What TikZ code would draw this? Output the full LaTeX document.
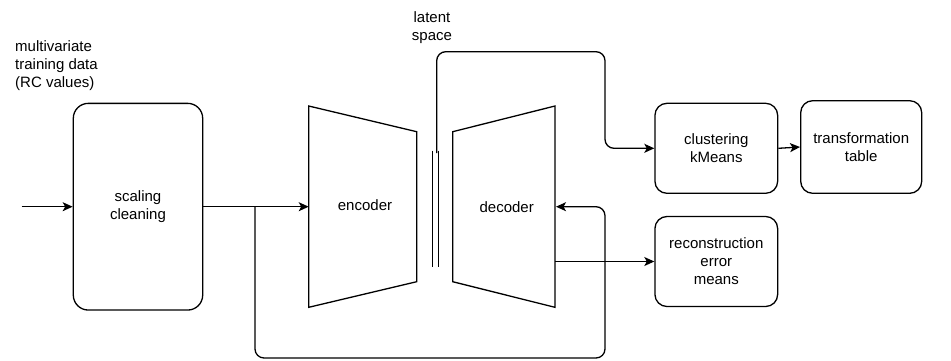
\documentclass[tikz,border=0pt]{standalone}
\usepackage{fontspec}
\setmainfont{Liberation Sans}
\usetikzlibrary{arrows.meta}
\begin{document}
\begin{tikzpicture}[x=1pt,y=-1pt,
  every node/.style={font=\fontsize{15pt}{18pt}\selectfont, align=center},
  box/.style={draw, line width=1.3pt, rounded corners=12pt, inner sep=0pt},
  ln/.style={line width=1.3pt},
  arr/.style={line width=1.3pt, -{Stealth[length=10pt,width=9pt,inset=2.5pt]}},
  conn/.style={arr, rounded corners=9pt}]
\useasboundingbox (0,0) rectangle (951,360);
\fill[white] (0,0) rectangle (951,360);

% boxes
\node[box, rounded corners=15pt, minimum width=129.4pt, minimum height=206.7pt] (scale) at (138,206.7) {scaling\\cleaning};
\node[box, minimum width=122.7pt, minimum height=90pt] (clust) at (716.3,148.3) {clustering\\kMeans};
\node[box, minimum width=121pt, minimum height=92.6pt] (trans) at (861.2,147) {transformation\\table};
\node[box, minimum width=122.7pt, minimum height=90pt] (recon) at (716.3,261.5) {reconstruction\\error\\means};

% encoder / decoder trapezoids
\coordinate (encTL) at (308.7,106);
\coordinate (encBL) at (308.7,307.3);
\coordinate (encTR) at (416.7,131.7);
\coordinate (encBR) at (416.7,281.7);
\coordinate (encin) at (308.7,206.7);
\draw[ln, line join=miter] (encTL) -- (encTR) -- (encBR) -- (encBL) -- cycle;
\node (enc) at (365,205) {encoder};

\coordinate (decTL) at (452.7,131.7);
\coordinate (decBL) at (452.7,281.7);
\coordinate (decTR) at (555,106);
\coordinate (decBR) at (555,307.3);
\coordinate (decin) at (556,206.7);
\coordinate (decout) at (555,261.5);
\draw[ln, line join=miter] (decTL) -- (decTR) -- (decBR) -- (decBL) -- cycle;
\node (dec) at (506.7,207.3) {decoder};

% latent space
\coordinate (latA1) at (432.7,150.7);
\coordinate (latA2) at (432.7,266.7);
\coordinate (latB1) at (438.3,150.7);
\coordinate (latB2) at (438.3,266.7);
\coordinate (lattop) at (436.7,153);
\draw[line width=1pt] (latA1) -- (latA2) (latB1) -- (latB2);
\node (latent) at (432,27.8) {latent\\space};

% multivariate label
\node[align=left, anchor=west, inner sep=0pt] (mv) at (15,66) {multivariate\\training data\\(RC values)};

% connectors
\coordinate (in) at (21.7,206.7);
\coordinate (br) at (255,206.7);
\draw[arr] (in) -- (scale.west);
\draw[arr] (scale.east) -- (encin);
\draw[conn] (br) -- (255,358) -- (605,358) -- (605,206.7) -- (decin);
\draw[conn] (lattop) -- (436.7,51.7) -- (605,51.7) -- (605,148.3) -- (clust.west);
\draw[arr] (clust.east) -- (trans.west);
\draw[arr] (decout) -- (recon.west);
\end{tikzpicture}
\end{document}
